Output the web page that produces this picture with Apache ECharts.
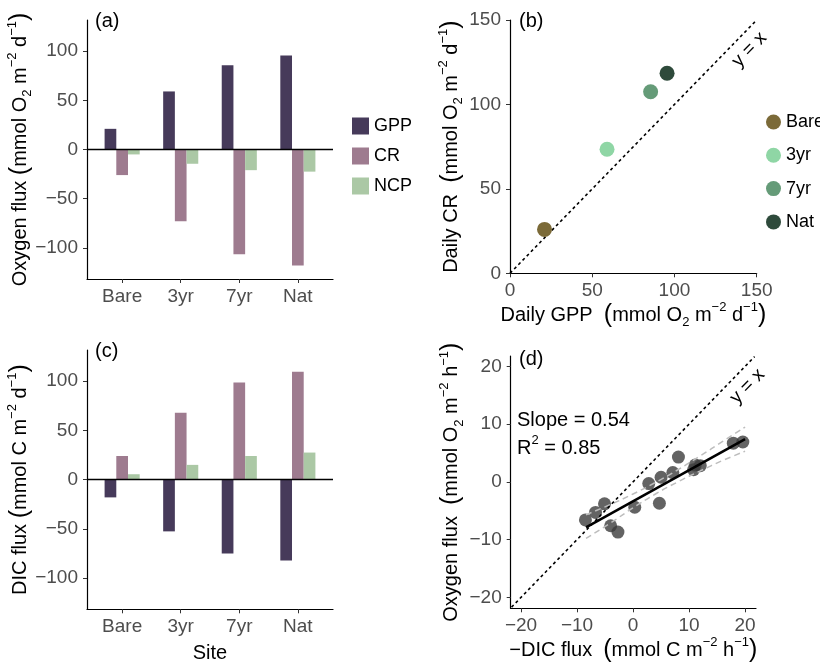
<!DOCTYPE html>
<html>
<head>
<meta charset="utf-8">
<script src="https://cdn.jsdelivr.net/npm/echarts@6/dist/echarts.min.js"></script>
<style>
html, body { margin: 0; padding: 0; background: #fff; }
#main { width: 820px; height: 668px; }
</style>
</head>
<body>
<div id="main"></div>
<script>
var chart = echarts.init(document.getElementById('main'), null, { renderer: 'canvas' });

// sites and their positions on the bar axes
var sites = ['Bare', '3yr', '7yr', 'Nat'];
var sitePos = [1, 2, 3, 4];

// (a) oxygen flux (mmol O2 m-2 d-1)
var o2GPP = [21, 59, 85.5, 95.5];
var o2CR = [-26, -73, -106.5, -118];
var o2NCP = [-5, -14.5, -21, -22.5];

// (c) DIC flux (mmol C m-2 d-1)
var dicGPP = [-18, -52.5, -75, -82];
var dicCR = [24, 68, 98.5, 109.5];
var dicNCP = [5.5, 15, 24, 27.5];

// (b) daily GPP vs daily CR
var dailyGPP = [21, 59, 85.5, 95.5];
var dailyCR = [26, 73.5, 107.5, 118.5];

// (d) hourly -DIC flux vs oxygen flux
var dicHourly = [-8.5, -6.7, -5.1, -4.0, -2.7, 0.3, 2.8, 4.7, 5.0, 7.1, 8.1, 10.8, 11.1, 12.0, 17.9, 19.6];
var o2Hourly = [-6.6, -5.3, -3.8, -7.6, -8.7, -4.4, -0.3, -3.7, 0.8, 1.6, 4.3, 2.1, 2.9, 2.8, 6.7, 6.9];
var fitX = [-8.4, 20];
var fitY = [-7.9, 7.4];
var ciX = [-8.4, -4, 0, 4, 8, 12, 16, 20];
var ciUpper = [-5.7, -3.9, -2.1, -0.1, 2.1, 4.5, 7.0, 9.5];
var ciLower = [-9.8, -7.1, -4.5, -2.1, 0.0, 1.9, 3.7, 5.3];

// 1:1 line ranges
var oneToOneB = [0, 150];
var oneToOneD = [-21.7, 21.7];

var fluxTicks = [-100, -50, 0, 50, 100];
var hourTicks = [-20, -10, 0, 10, 20];

var barColors = { GPP: '#463a5a', CR: '#9e7b8f', NCP: '#abc8a5' };
var siteColors = ['#7b6a38', '#8fd6a5', '#659b78', '#2e4a3b'];

var FONT = 'Liberation Sans, Arial, Helvetica, sans-serif';

function minus(v) {
    return String(v).replace('-', '\u2212');
}

var rich = {
    t: { fontSize: 20, color: '#000', lineHeight: 28, fontWeight: 'normal', fontFamily: FONT },
    p: { fontSize: 25, color: '#000', lineHeight: 28, fontWeight: 'normal', fontFamily: FONT },
    sp: { fontSize: 13, color: '#000', lineHeight: 17, fontWeight: 'normal', verticalAlign: 'top', fontFamily: FONT },
    sb: { fontSize: 13, color: '#000', lineHeight: 14, fontWeight: 'normal', verticalAlign: 'bottom', fontFamily: FONT }
};

function unitName(label, species, time) {
    return '{t|' + label + '}{p|(}{t|mmol ' + species + '}' +
        (species === 'O' ? '{sb|2}' : '') +
        '{t| m}{sp|\u22122}{t| ' + time + '}{sp|\u22121}{p|)}';
}

var axisLineStyle = { show: true, onZero: false, lineStyle: { color: '#000', width: 1.2 } };
var tickStyle = { show: true, length: 4, lineStyle: { color: '#333', width: 1 } };
var labelStyle = { color: '#4d4d4d', fontSize: 19, fontFamily: FONT };

function barXAxis(gridIndex, name) {
    return {
        type: 'value', gridIndex: gridIndex, min: 0.4, max: 4.6,
        axisLine: axisLineStyle,
        axisTick: Object.assign({ customValues: sitePos }, tickStyle),
        axisLabel: Object.assign({
            customValues: sitePos, margin: 8,
            formatter: function (v) { return sites[Math.round(v) - 1]; }
        }, labelStyle),
        splitLine: { show: false },
        name: name, nameLocation: 'middle', nameGap: 34,
        nameTextStyle: { fontSize: 20, color: '#000', fontFamily: FONT }
    };
}

function barYAxis(gridIndex, name) {
    return {
        type: 'value', gridIndex: gridIndex, min: -131.6, max: 131.6,
        axisLine: axisLineStyle,
        axisTick: Object.assign({ customValues: fluxTicks }, tickStyle),
        axisLabel: Object.assign({ customValues: fluxTicks, margin: 9, formatter: minus }, labelStyle),
        splitLine: { show: false },
        name: name, nameLocation: 'middle', nameGap: 53, nameMoveOverlap: false,
        nameTextStyle: { rich: rich }
    };
}

function pairs(xs, ys) {
    return xs.map(function (x, i) { return [x, ys[i]]; });
}

function barSeries(name, values, axisIndex, withZero) {
    var s = {
        name: name, type: 'bar', xAxisIndex: axisIndex, yAxisIndex: axisIndex,
        data: pairs(sitePos, values),
        barWidth: 11.7, barGap: '0%',
        itemStyle: { color: barColors[name] }
    };
    if (withZero) {
        s.markLine = {
            silent: true, symbol: 'none', label: { show: false },
            lineStyle: { color: '#000', type: 'solid', width: 1.3 },
            data: [{ yAxis: 0 }]
        };
    }
    return s;
}

var oneToOneLabel = {
    show: true, formatter: 'y = x', position: 'insideEndBottom', distance: 6,
    color: '#000', fontSize: 19, fontFamily: FONT
};

var series = [
    barSeries('GPP', o2GPP, 0, true),
    barSeries('CR', o2CR, 0, false),
    barSeries('NCP', o2NCP, 0, false),
    barSeries('GPP', dicGPP, 2, true),
    barSeries('CR', dicCR, 2, false),
    barSeries('NCP', dicNCP, 2, false)
];

sites.forEach(function (site, i) {
    var s = {
        name: site, type: 'scatter', xAxisIndex: 1, yAxisIndex: 1,
        symbolSize: 15, z: 3,
        itemStyle: { color: siteColors[i], opacity: 1 },
        data: [[dailyGPP[i], dailyCR[i]]]
    };
    if (i === 0) {
        s.markLine = {
            silent: true, symbol: 'none', z: 2,
            lineStyle: { color: '#000', type: [3, 3], width: 1.6 },
            label: oneToOneLabel,
            data: [[{ coord: [oneToOneB[0], oneToOneB[0]] }, { coord: [oneToOneB[1], oneToOneB[1]] }]]
        };
    }
    series.push(s);
});

series.push({
    name: 'hourly', type: 'scatter', xAxisIndex: 3, yAxisIndex: 3,
    symbolSize: 13, z: 2,
    itemStyle: { color: '#3c3c3c', opacity: 0.8 },
    data: pairs(dicHourly, o2Hourly),
    markLine: {
        silent: true, symbol: 'none',
        lineStyle: { color: '#000', type: [3, 3], width: 1.6, opacity: 1 },
        label: oneToOneLabel,
        data: [[{ coord: [oneToOneD[0], oneToOneD[0]] }, { coord: [oneToOneD[1], oneToOneD[1]] }]]
    }
});
[ciUpper, ciLower].forEach(function (band, k) {
    series.push({
        name: k === 0 ? 'ci upper' : 'ci lower', type: 'line', xAxisIndex: 3, yAxisIndex: 3,
        smooth: true, showSymbol: false, silent: true, z: 3,
        lineStyle: { color: '#bdbdbd', width: 1.5, type: [6, 4] },
        data: pairs(ciX, band)
    });
});
series.push({
    name: 'fit', type: 'line', xAxisIndex: 3, yAxisIndex: 3,
    showSymbol: false, silent: true, z: 4,
    lineStyle: { color: '#000', width: 2.6 },
    data: pairs(fitX, fitY)
});

var titleText = { fontSize: 20, fontWeight: 'normal', color: '#000', fontFamily: FONT };

chart.setOption({
    animation: false,
    textStyle: { fontFamily: FONT },
    title: [
        { text: '(a)', left: 95, top: 11, textStyle: titleText, padding: 0 },
        { text: '(b)', left: 519, top: 11, textStyle: titleText, padding: 0 },
        { text: '(c)', left: 95, top: 341, textStyle: titleText, padding: 0 },
        { text: '(d)', left: 519, top: 349, textStyle: titleText, padding: 0 },
        { text: 'Slope = 0.54', left: 517, top: 410, textStyle: titleText, padding: 0 },
        {
            text: '{t|R}{sp|2}{t| = 0.85}', left: 517, top: 434, padding: 0,
            textStyle: { fontWeight: 'normal', rich: rich }
        }
    ],
    legend: [
        {
            data: ['GPP', 'CR', 'NCP'], orient: 'vertical', left: 347, top: 112,
            itemWidth: 17, itemHeight: 17, itemGap: 12, icon: 'rect', selectedMode: false,
            textStyle: { fontSize: 18, color: '#000', fontFamily: FONT }
        },
        {
            data: sites, orient: 'vertical', left: 761, top: 108,
            itemWidth: 15, itemHeight: 15, itemGap: 15.3, icon: 'circle', selectedMode: false,
            textStyle: { fontSize: 18, color: '#000', fontFamily: FONT }
        }
    ],
    grid: [
        { left: 87, top: 20, width: 246, height: 259 },
        { left: 510, top: 20, width: 246.7, height: 253.3 },
        { left: 87, top: 350, width: 246, height: 259.3 },
        { left: 510.7, top: 356, width: 245.3, height: 252.3 }
    ],
    xAxis: [
        barXAxis(0, ''),
        {
            type: 'value', gridIndex: 1, min: 0, max: 150, interval: 50,
            axisLine: axisLineStyle, axisTick: tickStyle,
            axisLabel: Object.assign({ margin: 8 }, labelStyle),
            splitLine: { show: false },
            name: unitName('Daily GPP  ', 'O', 'd'), nameLocation: 'middle', nameGap: 27,
            nameTextStyle: { rich: rich }
        },
        barXAxis(2, 'Site'),
        {
            type: 'value', gridIndex: 3, min: -21.85, max: 21.95,
            axisLine: axisLineStyle,
            axisTick: Object.assign({ customValues: hourTicks }, tickStyle),
            axisLabel: Object.assign({ customValues: hourTicks, margin: 8, formatter: minus }, labelStyle),
            splitLine: { show: false },
            name: '{t|\u2212DIC flux  }{p|(}{t|mmol C m}{sp|\u22122}{t| h}{sp|\u22121}{p|)}',
            nameLocation: 'middle', nameGap: 28,
            nameTextStyle: { rich: rich }
        }
    ],
    yAxis: [
        barYAxis(0, unitName('Oxygen flux ', 'O', 'd')),
        {
            type: 'value', gridIndex: 1, min: 0, max: 150, interval: 50,
            axisLine: axisLineStyle, axisTick: tickStyle,
            axisLabel: Object.assign({ margin: 9 }, labelStyle),
            splitLine: { show: false },
            name: unitName('Daily CR  ', 'O', 'd'), nameLocation: 'middle', nameGap: 44,
            nameTextStyle: { rich: rich }
        },
        barYAxis(2, unitName('DIC flux ', 'C', 'd')),
        {
            type: 'value', gridIndex: 3, min: -21.9, max: 21.8,
            axisLine: axisLineStyle,
            axisTick: Object.assign({ customValues: hourTicks }, tickStyle),
            axisLabel: Object.assign({ customValues: hourTicks, margin: 9, formatter: minus }, labelStyle),
            splitLine: { show: false },
            name: unitName('Oxygen flux  ', 'O', 'h'), nameLocation: 'middle', nameGap: 45,
            nameTextStyle: { rich: rich }
        }
    ],
    series: series
});
</script>
</body>
</html>
